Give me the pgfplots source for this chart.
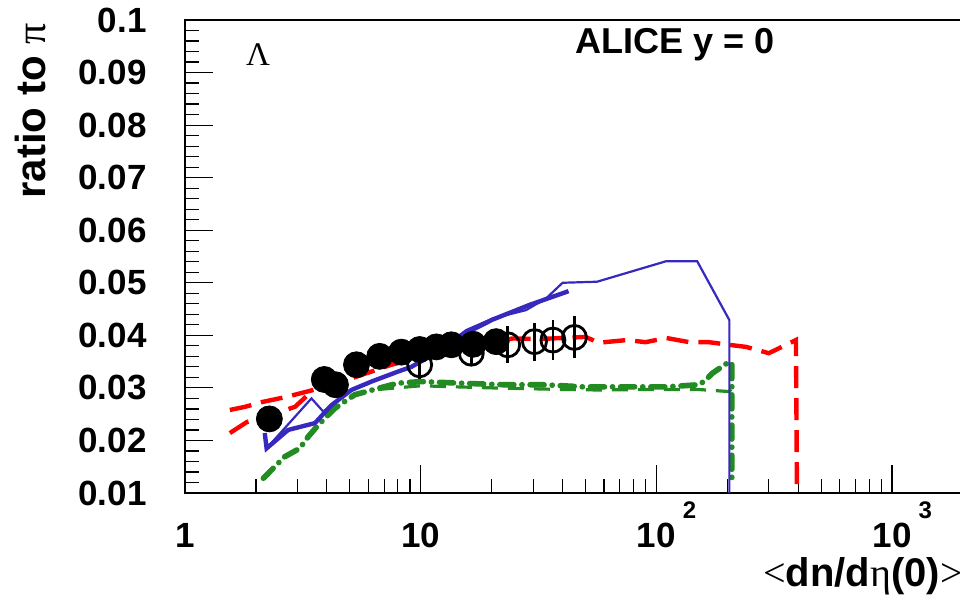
\documentclass[border=0pt]{standalone}
\usepackage{pgfplots}
\pgfplotsset{compat=1.18}
\usepackage{fontspec}
\setmainfont{Liberation Sans}
\newfontfamily\serif{Liberation Serif}
\definecolor{myred}{RGB}{255,0,0}
\definecolor{mygreen}{RGB}{34,139,34}
\definecolor{myblue}{RGB}{55,40,190}
\newcommand{\supten}[1]{10\rlap{\hspace{3.5pt}\smash{\raisebox{14.5pt}{\fontsize{12}{12}\selectfont #1}}}}
\begin{document}
\begin{tikzpicture}
\begin{axis}[
  scale only axis, width=389pt, height=236.5pt,
  xmode=log, xmin=1, xmax=2000, ymin=0.01, ymax=0.1,
  axis line style={line width=1.2pt},
  xtick={1,10,100,1000},
  xticklabels={1,10,{\supten{2}},{\supten{3}}},
  minor xtick={2,3,4,5,6,7,8,9,20,30,40,50,60,70,80,90,200,300,400,500,600,700,800,900,2000},
  ytick={0.01,0.02,0.03,0.04,0.05,0.06,0.07,0.08,0.09,0.1},
  yticklabels={0.01,0.02,0.03,0.04,0.05,0.06,0.07,0.08,0.09,0.1},
  minor ytick={0.012,0.014,0.016,0.018,0.022,0.024,0.026,0.028,0.032,0.034,0.036,0.038,0.042,0.044,0.046,0.048,0.052,0.054,0.056,0.058,0.062,0.064,0.066,0.068,0.072,0.074,0.076,0.078,0.082,0.084,0.086,0.088,0.092,0.094,0.096,0.098},
  xtick pos=bottom, ytick pos=left, tick align=inside,
  major tick length=14pt, minor tick length=7pt,
  every tick/.style={black, line width=0.6pt},
  xticklabel style={anchor=north, inner sep=0pt, yshift=-15pt, font=\fontsize{17.5}{19}\selectfont\bfseries},
  yticklabel style={anchor=east, inner sep=0pt, xshift=-19pt, font=\fontsize{17.5}{19}\selectfont\bfseries},
  scaled y ticks=false,
]
% red dashed (two branches)
\addplot[myred, line width=2.2pt, dash pattern=on 11pt off 5pt] coordinates {
(1.55,0.0258) (1.80,0.0264) (2.12,0.0273) (2.70,0.0283) (3.5,0.0296) (5.08,0.0318) (7.5,0.0344)
(12,0.0367) (17,0.0383) (24.6,0.0394) (32,0.0393) (50,0.0397) (57,0.0386) (75,0.0391) (90,0.0387)
(110,0.0395) (138,0.0387) (167,0.0387) (203,0.0382) (240,0.0378) (300,0.0366) (391,0.0391) (395,0.0100)};
\addplot[myred, line width=2.2pt, dash pattern=on 11pt off 5pt] coordinates {
(1.55,0.0214) (1.83,0.0235) (2.3,0.0248) (2.93,0.0264) (3.5,0.0296)};
% green dash-dot
\addplot[mygreen, line width=2.8pt, line cap=round, dash pattern=on 7pt off 4pt on 0.1pt off 4pt] coordinates {
(2.15,0.0128) (2.49,0.0157) (2.65,0.0169) (3.07,0.0185) (3.33,0.0207) (3.67,0.0229) (4.32,0.0261)
(5.25,0.0287) (6.6,0.0299) (8.0,0.0309) (10.1,0.0312) (14.6,0.0309) (22.4,0.0306) (33,0.0306)
(48.6,0.0302) (74,0.0302) (110,0.0302) (152,0.0306) (162,0.0315) (173,0.0328) (204,0.0350)
(209,0.0345) (209,0.0118)};
\addplot[mygreen, line width=1.6pt, dash pattern=on 8pt off 5pt] coordinates {
(6.6,0.0297) (10,0.0304) (20,0.0300) (40,0.0297) (57,0.0296) (100,0.0297) (150,0.0297) (204,0.0293) (209,0.0300)};
% blue thick
\addplot[myblue, line width=2.2pt] coordinates {
(2.18,0.0214) (2.22,0.0185) (2.74,0.0220) (3.56,0.0233) (4.18,0.0267) (5.08,0.0296) (6.18,0.0312)
(8.01,0.0331) (9.13,0.0340) (12,0.0370) (16,0.0407) (20.2,0.0430) (29,0.0458) (42.4,0.0484)};
% blue thin
\addplot[myblue, line width=1.1pt] coordinates {
(2.18,0.0214) (2.22,0.0185) (3.44,0.0280) (3.86,0.0255) (4.18,0.0267) (5.08,0.0296) (6.18,0.0312)
(8.01,0.0331) (9.13,0.0340) (12,0.0372) (15.6,0.0410) (20.2,0.0432) (28,0.0448) (34,0.0470)
(40,0.0500) (56,0.0502) (110,0.0541) (149,0.0541) (204,0.0429) (204,0.0100)};
% data: filled circles
\addplot[only marks, mark=*, mark size=6.5pt, black] coordinates {
(2.28,0.0241) (3.9,0.0316) (4.35,0.0306) (5.34,0.0344) (6.7,0.0360) (8.28,0.0368) (9.9,0.0373)
(11.65,0.0378) (13.5,0.0382) (16.7,0.0383) (20.9,0.0388)};
% data: open circles with errors
\addplot[only marks, mark=o, mark size=6pt, black, line width=1.4pt,
  error bars/.cd, y dir=both, y explicit, error mark=none,
  error bar style={line width=1.3pt, black}] coordinates {
(9.9,0.0344) +- (0,0.0027)
(16.4,0.0366) +- (0,0.0025)
(23.4,0.0382) +- (0,0.0035)
(30.4,0.0388) +- (0,0.0036)
(36.4,0.0391) +- (0,0.0038)
(44.9,0.0396) +- (0,0.0040)};
\end{axis}
\node[anchor=center, inner sep=0pt] at (36.5pt,219pt) {\serif\fontsize{16.5}{18}\selectfont Λ};
\node[anchor=center, inner sep=0pt] at (245pt,224pt) {\fontsize{18}{20}\selectfont\bfseries ALICE y = 0};
\node[rotate=90, anchor=north east, inner sep=0pt] at (-85pt,235pt) {\fontsize{21}{23}\selectfont\bfseries ratio to {\serif\mdseries π}};
\node[anchor=base east, inner sep=0pt] at (389pt,-47pt) {\fontsize{20}{22}\selectfont\bfseries {\serif\mdseries <}dn/d{\serif\mdseries η}(0){\serif\mdseries >}};
\pgfresetboundingbox
\path[use as bounding box] (-92.5pt,-53pt) rectangle (387.5pt,246.5pt);
\end{tikzpicture}
\end{document}
